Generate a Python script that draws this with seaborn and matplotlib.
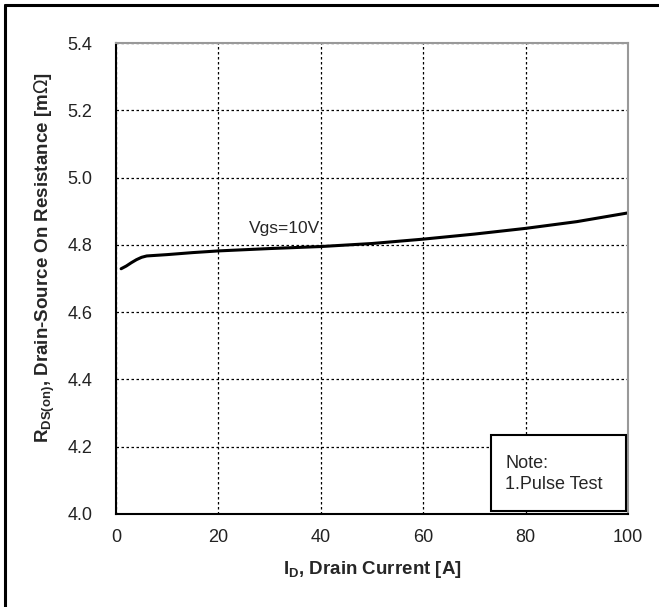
import numpy as np
import matplotlib.pyplot as plt
import matplotlib.lines as mlines
import matplotlib.patches as mpatches
import seaborn as sns

# drain current [A] and on-resistance [mOhm]
current = [1, 2, 3, 4, 5, 6, 8, 10, 15, 20, 30, 40, 50, 60, 70, 80, 90, 100]
rds_on = [4.729, 4.737, 4.747, 4.756, 4.763, 4.767, 4.769, 4.771, 4.777, 4.782, 4.789, 4.795, 4.804, 4.817, 4.832, 4.849, 4.869, 4.895]

x_ticks = [0, 20, 40, 60, 80, 100]
y_ticks = [4.0, 4.2, 4.4, 4.6, 4.8, 5.0, 5.2, 5.4]

sns.set_theme(style="white")
plt.rcParams['font.family'] = ['Liberation Sans', 'DejaVu Sans']

fig = plt.figure(figsize=(6.59, 6.07), dpi=100)
ax = fig.add_axes([116 / 659, 1 - 514 / 607, (628 - 116) / 659, (514 - 43) / 607])

sns.lineplot(x=current, y=rds_on, ax=ax, color='black', linewidth=2.2)

ax.set_xlim(0, 100)
ax.set_ylim(4.0, 5.4)
ax.set_xticks(x_ticks)
ax.set_yticks(y_ticks)
ax.set_xticklabels([str(t) for t in x_ticks])
ax.set_yticklabels([f"{t:.1f}" for t in y_ticks])
ax.tick_params(axis='both', labelsize=13, length=0, colors='#222222')
ax.tick_params(axis='x', pad=11)
ax.tick_params(axis='y', pad=17)
ax.grid(True, color='black', linestyle=(0, (2, 2)), linewidth=0.9)

for side in ['top', 'right']:
    ax.spines[side].set_color('#999999')
    ax.spines[side].set_linewidth(1.5)
for side in ['left', 'bottom']:
    ax.spines[side].set_color('black')
    ax.spines[side].set_linewidth(1.5)

ax.set_xlabel(r"I$_{\mathregular{D}}$, Drain Current [A]", fontsize=13.5, fontweight='bold', labelpad=9)
ax.set_ylabel(r"R$_{\mathregular{DS(on)}}$, Drain-Source On Resistance [m$\Omega$]",
              fontsize=13.5, fontweight='bold')
ax.yaxis.set_label_coords(-0.116, 0.543)

ax.text(26, 4.836, "Vgs=10V", fontsize=12.5, ha='left', va='baseline')

# note box
ax.add_patch(mpatches.Rectangle((0.732, 0.0064), 0.264, 0.161, transform=ax.transAxes,
                                facecolor='white', edgecolor='black', linewidth=1.5, zorder=5))
ax.text(0.760, 0.0977, "Note:", transform=ax.transAxes, fontsize=13, ha='left', va='baseline', zorder=6)
ax.text(0.760, 0.053, "1.Pulse Test", transform=ax.transAxes, fontsize=13, ha='left', va='baseline', zorder=6)

# outer frame lines (top and left)
fig.add_artist(mlines.Line2D([5 / 659, 1], [1 - 5 / 607, 1 - 5 / 607], color='black', linewidth=2.2,
                             transform=fig.transFigure))
fig.add_artist(mlines.Line2D([5 / 659, 5 / 659], [0, 1 - 5 / 607], color='black', linewidth=2.2,
                             transform=fig.transFigure))

fig.savefig("out.png", dpi=100)
